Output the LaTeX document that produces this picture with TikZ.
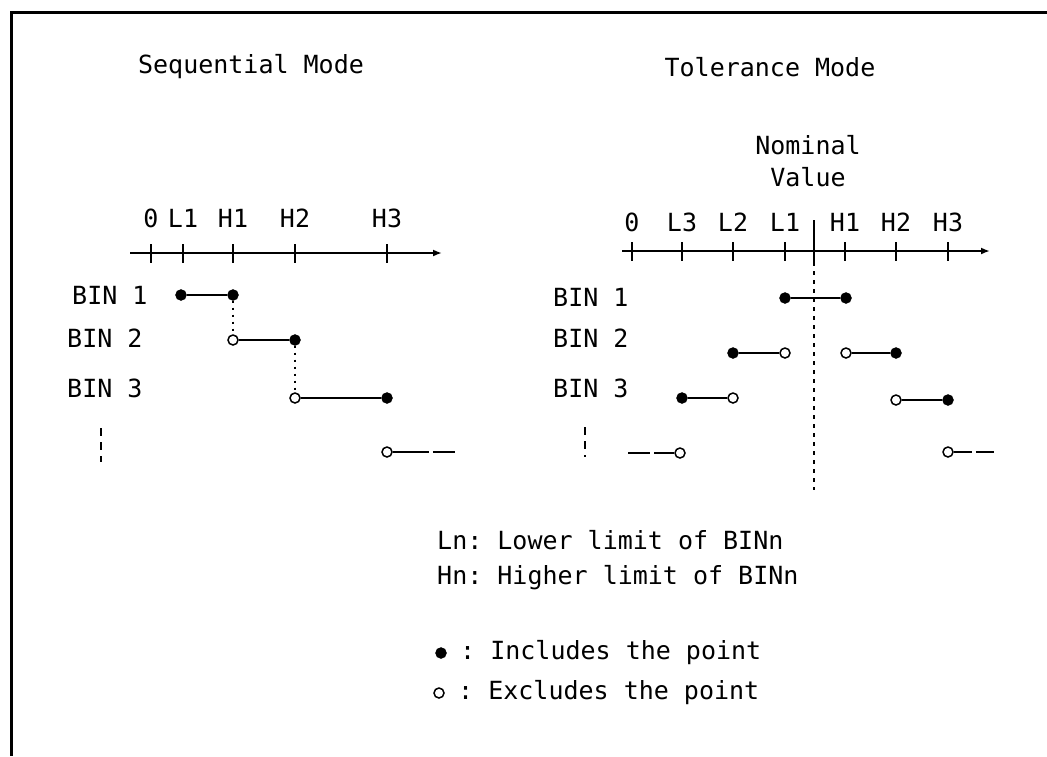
\documentclass[tikz,border=0pt]{standalone}
\usepackage{fontspec}
\setmonofont{DejaVu Sans Mono}
\usetikzlibrary{arrows.meta}
\begin{document}
\begin{tikzpicture}[x=1pt,y=-1pt,
  txt/.style={font=\ttfamily\fontsize{25}{30}\selectfont, inner sep=0pt},
  incl/.style={circle, fill=black, draw=black, minimum size=11pt, inner sep=0pt},
  excl/.style={circle, fill=white, draw=black, line width=1.5pt, minimum size=10pt, inner sep=0pt},
  seg/.style={line width=2pt},
  axisline/.style={line width=2pt, -{Latex[length=9pt,width=7pt]}},
  tickmark/.style={line width=2pt},
  guide/.style={line width=2pt, dash pattern=on 2pt off 5pt},
  nomline/.style={line width=2pt, dash pattern=on 4pt off 5pt},
  etcline/.style={line width=2pt, dash pattern=on 8pt off 6pt},
]
\useasboundingbox (0,0) rectangle (1047,756);
% frame (top and left edges only)
\draw[line width=3pt] (1047,12) -- (11,12) -- (11,756);

% ---------------- Sequential Mode ----------------
\node[txt] (seqt) at (251,67) {Sequential Mode};
\coordinate (sa) at (130,253);
\coordinate (sb) at (442,253);
\draw[axisline] (sa) -- (sb);
\foreach \x/\l in {151/0,183/L1,233/H1,295/H2,387/H3} {
  \draw[tickmark] (\x,244) -- (\x,263);
  \node[txt] (sl\l) at (\x,218) {\l};
}
\node[txt, anchor=west] (sbin1) at (72,295) {BIN 1};
\node[txt, anchor=west] (sbin2) at (67,338) {BIN 2};
\node[txt, anchor=west] (sbin3) at (67,388) {BIN 3};

\node[incl] (s1a) at (181,295) {};
\node[incl] (s1b) at (233,295) {};
\node[excl] (s2a) at (233,340) {};
\node[incl] (s2b) at (295,340) {};
\node[excl] (s3a) at (295,398) {};
\node[incl] (s3b) at (387,398) {};
\node[excl] (s4a) at (387,452) {};
\coordinate (s4b) at (455,452);
\draw[seg] (s1a) -- (s1b);
\draw[seg] (s2a) -- (s2b);
\draw[seg] (s3a) -- (s3b);
\draw[seg, dash pattern=on 36pt off 4pt] (s4a) -- (s4b);
\draw[guide] (s1b) -- (s2a);
\draw[guide] (s2b) -- (s3a);
\coordinate (sv1) at (101,428);
\coordinate (sv2) at (101,462);
\draw[etcline] (sv1) -- (sv2);

% ---------------- Tolerance Mode ----------------
\node[txt] (tolt) at (770,67) {Tolerance Mode};
\node[txt] (nom) at (808,145) {Nominal};
\node[txt] (val) at (808,177) {Value};
\coordinate (ta) at (622,251);
\coordinate (tb) at (990,251);
\draw[axisline] (ta) -- (tb);
\foreach \x/\l in {632/0,682/L3,733/L2,785/L1,845/H1,896/H2,948/H3} {
  \draw[tickmark] (\x,242) -- (\x,261);
  \node[txt] (tl\l) at (\x,222) {\l};
}
\coordinate (n1) at (814,220);
\coordinate (n2) at (814,262);
\coordinate (n3) at (814,490);
\draw[tickmark] (n1) -- (n2);
\draw[nomline] (n2) -- (n3);

\node[txt, anchor=west] (tbin1) at (553,297) {BIN 1};
\node[txt, anchor=west] (tbin2) at (553,338) {BIN 2};
\node[txt, anchor=west] (tbin3) at (553,388) {BIN 3};

\node[incl] (t1a) at (785,298) {};
\node[incl] (t1b) at (846,298) {};
\node[incl] (t2a) at (733,353) {};
\node[excl] (t2b) at (785,353) {};
\node[excl] (t2c) at (846,353) {};
\node[incl] (t2d) at (896,353) {};
\node[incl] (t3a) at (682,398) {};
\node[excl] (t3b) at (733,398) {};
\node[excl] (t3c) at (896,400) {};
\node[incl] (t3d) at (948,400) {};
\coordinate (t4a) at (628,453);
\node[excl] (t4b) at (680,453) {};
\node[excl] (t4c) at (948,452) {};
\coordinate (t4d) at (994,452);
\draw[seg] (t1a) -- (t1b);
\draw[seg] (t2a) -- (t2b);
\draw[seg] (t2c) -- (t2d);
\draw[seg] (t3a) -- (t3b);
\draw[seg] (t3c) -- (t3d);
\draw[seg, dash pattern=on 22pt off 4pt] (t4a) -- (t4b);
\draw[seg, dash pattern=on 18pt off 4pt] (t4c) -- (t4d);
\coordinate (tv1) at (585,427);
\coordinate (tv2) at (585,457);
\draw[etcline] (tv1) -- (tv2);

% ---------------- Legend ----------------
\node[txt, anchor=west] (lg1) at (437,540) {Ln: Lower limit of BINn};
\node[txt, anchor=west] (lg2) at (437,578) {Hn: Higher limit of BINn};
\node[incl] (lgd1) at (441,653) {};
\node[txt, anchor=west] (lgt1) at (460,653) {: Includes the point};
\node[excl] (lgd2) at (439,693) {};
\node[txt, anchor=west] (lgt2) at (458,693) {: Excludes the point};
\end{tikzpicture}
\end{document}
